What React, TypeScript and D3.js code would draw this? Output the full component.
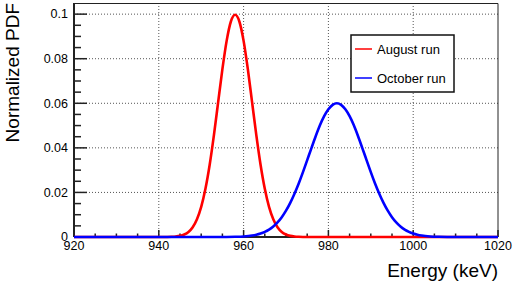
import * as d3 from "d3";
import { useEffect, useRef } from "react";

// August run (red)
const augustE = [920, 942, 943, 944, 945, 946, 947, 948, 949, 950, 951, 952, 953, 954, 955, 956, 957, 958,
  959, 960, 961, 962, 963, 964, 965, 966, 967, 968, 969, 970, 971, 972, 973, 974, 1020];
const augustPdf = [0, 0.00003, 0.00009, 0.00022, 0.00051, 0.00111, 0.00227, 0.00438, 0.00794, 0.0135, 0.0216,
  0.0324, 0.0457, 0.0605, 0.0753, 0.088, 0.0967, 0.0997, 0.0967, 0.088, 0.0753, 0.0605, 0.0457, 0.0324,
  0.0216, 0.0135, 0.00794, 0.00438, 0.00227, 0.00111, 0.00051, 0.00022, 0.00009, 0.00003, 0];

// October run (blue)
const octoberE = [920, 956, 958, 960, 962, 963, 964, 965, 966, 967, 968, 969, 970, 971, 972, 973, 974, 975, 976,
  977, 978, 979, 980, 981, 982, 983, 984, 985, 986, 987, 988, 989, 990, 991, 992, 993, 994, 995, 996, 997,
  998, 999, 1000, 1001, 1002, 1004, 1006, 1008, 1020];
const octoberPdf = [0, 0.00003, 0.00009, 0.00025, 0.00065, 0.00101, 0.00154, 0.00229, 0.00332, 0.00471,
  0.00654, 0.00888, 0.0118, 0.0153, 0.0194, 0.024, 0.0291, 0.0345, 0.0399, 0.0452, 0.0501, 0.0542, 0.0573,
  0.0593, 0.06, 0.0593, 0.0573, 0.0542, 0.0501, 0.0452, 0.0399, 0.0345, 0.0291, 0.024, 0.0194, 0.0153,
  0.0118, 0.00888, 0.00654, 0.00471, 0.00332, 0.00229, 0.00154, 0.00101, 0.00065, 0.00025, 0.00009,
  0.00003, 0];

const xTicks = [920, 940, 960, 980, 1000, 1020];
const yTicks = [0, 0.02, 0.04, 0.06, 0.08, 0.1];
const yTickLabels = ["0", "0.02", "0.04", "0.06", "0.08", "0.1"];
const legendNames = ["August run", "October run"];
const colors = ["#ff0000", "#0000ff"];

const W = 515, H = 284;
const margin = { top: 3, right: 17, bottom: 47, left: 74 };
const font = "'Liberation Sans', Arial, Helvetica, sans-serif";

const App = () => {
  const ref = useRef<SVGSVGElement | null>(null);

  useEffect(() => {
    const svg = d3.select(ref.current);
    svg.selectAll("*").remove();
    const width = W - margin.left - margin.right;
    const height = H - margin.top - margin.bottom;

    const xScale = d3.scaleLinear().domain([920, 1020]).range([0, width]);
    const yScale = d3.scaleLinear().domain([0, 0.105]).range([height, 0]);

    svg.append("rect").attr("width", W).attr("height", H).attr("fill", "white");
    const g = svg.append("g").attr("transform", `translate(${margin.left},${margin.top})`);

    // grid
    g.append("g")
      .selectAll("line")
      .data(xTicks.slice(1, -1))
      .join("line")
      .attr("x1", (d) => xScale(d)).attr("x2", (d) => xScale(d))
      .attr("y1", 0).attr("y2", height)
      .attr("stroke", "#555").attr("stroke-width", 1).attr("stroke-dasharray", "1,2");
    g.append("g")
      .selectAll("line")
      .data(yTicks.slice(1))
      .join("line")
      .attr("x1", 0).attr("x2", width)
      .attr("y1", (d) => yScale(d)).attr("y2", (d) => yScale(d))
      .attr("stroke", "#555").attr("stroke-width", 1).attr("stroke-dasharray", "1,2");

    // frame top/right
    g.append("path")
      .attr("d", `M0,0.5H${width}V${height}`)
      .attr("fill", "none").attr("stroke", "#222").attr("stroke-width", 1);

    // minor + major ticks, drawn inside the frame like ROOT
    const xMinor = d3.range(920, 1020.01, 5);
    g.append("g")
      .selectAll("line")
      .data(xMinor)
      .join("line")
      .attr("x1", (d) => xScale(d)).attr("x2", (d) => xScale(d))
      .attr("y1", height)
      .attr("y2", (d) => height - (d % 20 === 0 ? 7 : 3.5))
      .attr("stroke", "#222").attr("stroke-width", 1.5);
    const yMinor = d3.range(0, 0.1001, 0.005);
    g.append("g")
      .selectAll("line")
      .data(yMinor)
      .join("line")
      .attr("x1", 0)
      .attr("x2", (d, i) => (i % 4 === 0 ? 13 : 7))
      .attr("y1", (d) => yScale(d)).attr("y2", (d) => yScale(d))
      .attr("stroke", "#222").attr("stroke-width", 1.5);

    // axis lines
    g.append("line").attr("x1", 0).attr("x2", 0).attr("y1", 0).attr("y2", height)
      .attr("stroke", "#222").attr("stroke-width", 2);
    g.append("line").attr("x1", 0).attr("x2", width).attr("y1", height).attr("y2", height)
      .attr("stroke", "#222").attr("stroke-width", 2);

    // tick labels
    g.append("g")
      .selectAll("text")
      .data(xTicks)
      .join("text")
      .attr("x", (d) => xScale(d))
      .attr("y", height + 12.5)
      .attr("text-anchor", "middle")
      .attr("font-family", font).attr("font-size", 12.5)
      .text((d) => d);
    g.append("g")
      .selectAll("text")
      .data(yTicks)
      .join("text")
      .attr("x", -6)
      .attr("y", (d) => yScale(d) + 4.3)
      .attr("text-anchor", "end")
      .attr("font-family", font).attr("font-size", 12.5)
      .text((d, i) => yTickLabels[i]);

    // curves
    const line = d3.line<[number, number]>()
      .x((d) => xScale(d[0]))
      .y((d) => yScale(d[1]))
      .curve(d3.curveMonotoneX);
    const series = [
      augustE.map((e, i) => [e, augustPdf[i]] as [number, number]),
      octoberE.map((e, i) => [e, octoberPdf[i]] as [number, number]),
    ];
    series.forEach((s, i) => {
      g.append("path")
        .datum(s)
        .attr("d", line)
        .attr("fill", "none")
        .attr("stroke", colors[i])
        .attr("stroke-width", 2.6)
        .attr("stroke-linejoin", "round");
    });

    // axis titles
    svg.append("text")
      .attr("x", margin.left + width)
      .attr("y", 277)
      .attr("text-anchor", "end")
      .attr("font-family", font).attr("font-size", 19)
      .text("Energy (keV)");
    svg.append("text")
      .attr("transform", "translate(19," + margin.top + ")rotate(-90)")
      .attr("text-anchor", "end")
      .attr("font-family", font).attr("font-size", 19)
      .text("Normalized PDF");

    // legend
    const lg = svg.append("g").attr("transform", "translate(351,35)");
    lg.append("rect").attr("width", 103).attr("height", 57)
      .attr("fill", "white").attr("stroke", "#111").attr("stroke-width", 1.5);
    legendNames.forEach((name, i) => {
      const cy = 14 + i * 29;
      lg.append("line").attr("x1", 4).attr("x2", 21).attr("y1", cy).attr("y2", cy)
        .attr("stroke", colors[i]).attr("stroke-width", 1.5);
      lg.append("text").attr("x", 26).attr("y", cy + 4.6)
        .attr("font-family", font).attr("font-size", 13)
        .text(name);
    });
  }, []);

  return (
    <svg ref={ref} width={W} height={H} style={{ position: "absolute", left: 0, top: 0 }} />
  );
};

export default App;
